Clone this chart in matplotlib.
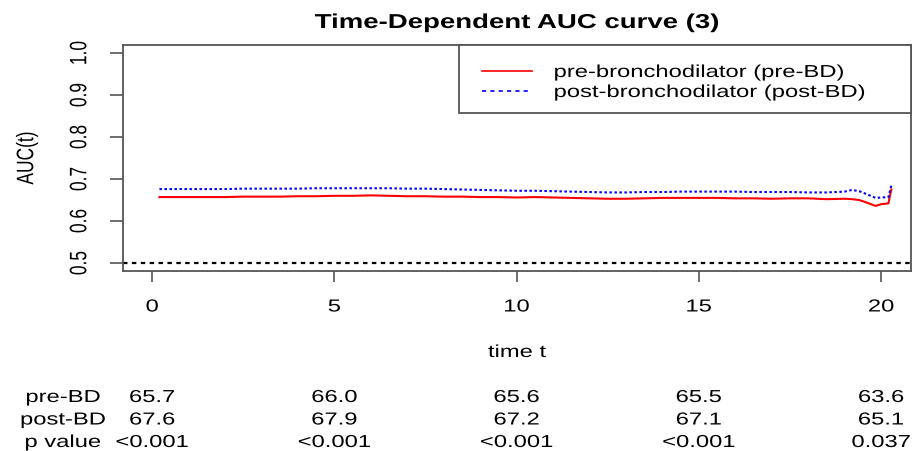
import matplotlib
matplotlib.use("Agg")
import matplotlib.pyplot as plt
from matplotlib.lines import Line2D
from matplotlib.patches import Rectangle
from matplotlib.patheffects import AbstractPathEffect
from matplotlib.transforms import Affine2D, blended_transform_factory

plt.rcParams['font.family'] = ['Liberation Sans', 'DejaVu Sans']

# Time-dependent AUC estimates
t = [0.2, 0.5, 1, 1.5, 2, 2.5, 3, 3.5, 4, 4.5, 5, 5.5, 6, 6.5, 7, 7.5, 8, 8.5,
     9, 9.5, 10, 10.5, 11, 11.5, 12, 12.5, 13, 13.5, 14, 14.5, 15, 15.5, 16,
     16.5, 17, 17.5, 18, 18.5, 19, 19.2, 19.4, 19.6, 19.85, 20.0, 20.2, 20.28]
auc_pre = [0.657, 0.657, 0.657, 0.657, 0.657, 0.658, 0.658, 0.658, 0.659, 0.659,
           0.660, 0.660, 0.661, 0.660, 0.659, 0.659, 0.658, 0.658, 0.657, 0.657,
           0.656, 0.657, 0.656, 0.655, 0.654, 0.653, 0.653, 0.654, 0.655, 0.655,
           0.655, 0.655, 0.654, 0.654, 0.653, 0.654, 0.654, 0.652, 0.653, 0.652,
           0.650, 0.644, 0.636, 0.640, 0.642, 0.675]
auc_post = [0.676, 0.676, 0.676, 0.676, 0.676, 0.677, 0.677, 0.677, 0.677, 0.678,
            0.678, 0.678, 0.678, 0.678, 0.677, 0.677, 0.676, 0.675, 0.674, 0.673,
            0.672, 0.672, 0.671, 0.670, 0.669, 0.668, 0.668, 0.669, 0.669, 0.670,
            0.670, 0.670, 0.670, 0.669, 0.669, 0.669, 0.668, 0.668, 0.670, 0.674,
            0.671, 0.664, 0.655, 0.656, 0.657, 0.684]

series_labels = ["pre-bronchodilator (pre-BD)", "post-bronchodilator (post-BD)"]

# Summary table under the plot
table_times = [0, 5, 10, 15, 20]
row_labels = ["pre-BD", "post-BD", "p value"]
pre_pct = ["65.7", "66.0", "65.6", "65.5", "63.6"]
post_pct = ["67.6", "67.9", "67.2", "67.1", "65.1"]
p_values = ["<0.001", "<0.001", "<0.001", "<0.001", "0.037"]

xticks = [0, 5, 10, 15, 20]
yticks = [0.5, 0.6, 0.7, 0.8, 0.9, 1.0]

FS = 12.5
SX = 1.37          # horizontal widening of glyphs
RED = "#ff0000"
BLUE = "#0000ff"
GREY = "#555555"


class HStretch(AbstractPathEffect):
    """Draw text glyphs widened horizontally about an anchor of their ink box."""

    def __init__(self, sx, anchor="center"):
        super().__init__()
        self.sx = sx
        self.anchor = anchor

    def draw_path(self, renderer, gc, tpath, affine, rgbFace=None):
        ext = tpath.get_extents(affine)
        if self.anchor == "left":
            cx = ext.x0
        elif self.anchor == "right":
            cx = ext.x1
        else:
            cx = 0.5 * (ext.x0 + ext.x1)
        tr = affine + Affine2D().translate(-cx, 0).scale(self.sx, 1).translate(cx, 0)
        renderer.draw_path(gc, tpath, tr, rgbFace)


def wide(anchor="center"):
    return [HStretch(SX, anchor)]


W, H = 917, 452
fig = plt.figure(figsize=(W / 100, H / 100), dpi=100)


def fx(x):
    return x / W


def fy(y):
    return 1 - y / H


ax = fig.add_axes([fx(123), fy(272), (911 - 123) / W, (272 - 46) / H])

ax.plot(t, auc_pre, color=RED, lw=1.5)
ax.plot(t, auc_post, color=BLUE, lw=1.5, dashes=(1.2, 1.2))
ax.axhline(0.5, color="black", lw=1.6, dashes=(2, 2))

ax.set_xlim(-0.8, 20.82)
ax.set_ylim(0.481, 1.019)
ax.set_xticks(xticks)
ax.set_xticklabels([str(v) for v in xticks])
ax.set_yticks(yticks)
ax.set_yticklabels([f"{v:.1f}" for v in yticks], rotation=90, va="center")
ax.tick_params(axis="both", width=1.2, color=GREY, labelsize=FS)
ax.tick_params(axis="x", length=8, pad=12.5)
ax.tick_params(axis="y", length=9.4, pad=16.5)
for lbl in ax.get_xticklabels() + ax.get_yticklabels():
    lbl.set_path_effects(wide())
for s in ax.spines.values():
    s.set_color(GREY)
    s.set_linewidth(1.3)

fig.text(fx(517), fy(29), "Time-Dependent AUC curve (3)", ha="center", va="baseline",
         fontsize=14.5, fontweight="bold", path_effects=wide())
fig.text(fx(517), fy(358), "time t", ha="center", va="baseline", fontsize=FS,
         path_effects=wide())
fig.text(fx(27), fy(159), "AUC(t)", ha="center", va="center", rotation=90, fontsize=FS,
         path_effects=wide())

# Legend box in the top-right corner of the plot
fig.add_artist(Rectangle((fx(459), fy(114)), (911 - 459) / W, (114 - 46) / H,
                         transform=fig.transFigure, facecolor="white",
                         edgecolor=GREY, lw=1.3, zorder=5))
legend_rows = [(RED, None, 72), (BLUE, (2.5, 2.5), 92)]
for (col, dash, y), lab in zip(legend_rows, series_labels):
    ln = Line2D([fx(482), fx(532)], [fy(y), fy(y)], transform=fig.transFigure,
                color=col, lw=1.2, zorder=6)
    if dash:
        ln.set_dashes(dash)
    fig.add_artist(ln)
    fig.text(fx(554), fy(y + 6), lab, ha="left", va="baseline", fontsize=FS,
             path_effects=wide("left"), zorder=6)

# Table of values at selected times
tr = blended_transform_factory(ax.transData, fig.transFigure)
row_base = [403, 425.5, 448]
rows = [pre_pct, post_pct, p_values]
for label, y, vals in zip(row_labels, row_base, rows):
    fig.text(fx(63), fy(y), label, ha="center", va="baseline", fontsize=FS,
             path_effects=wide())
    for tx, v in zip(table_times, vals):
        ax.text(tx, fy(y), v, transform=tr, ha="center", va="baseline", fontsize=FS,
                path_effects=wide(), clip_on=False)

fig.savefig("out.png", dpi=100)
